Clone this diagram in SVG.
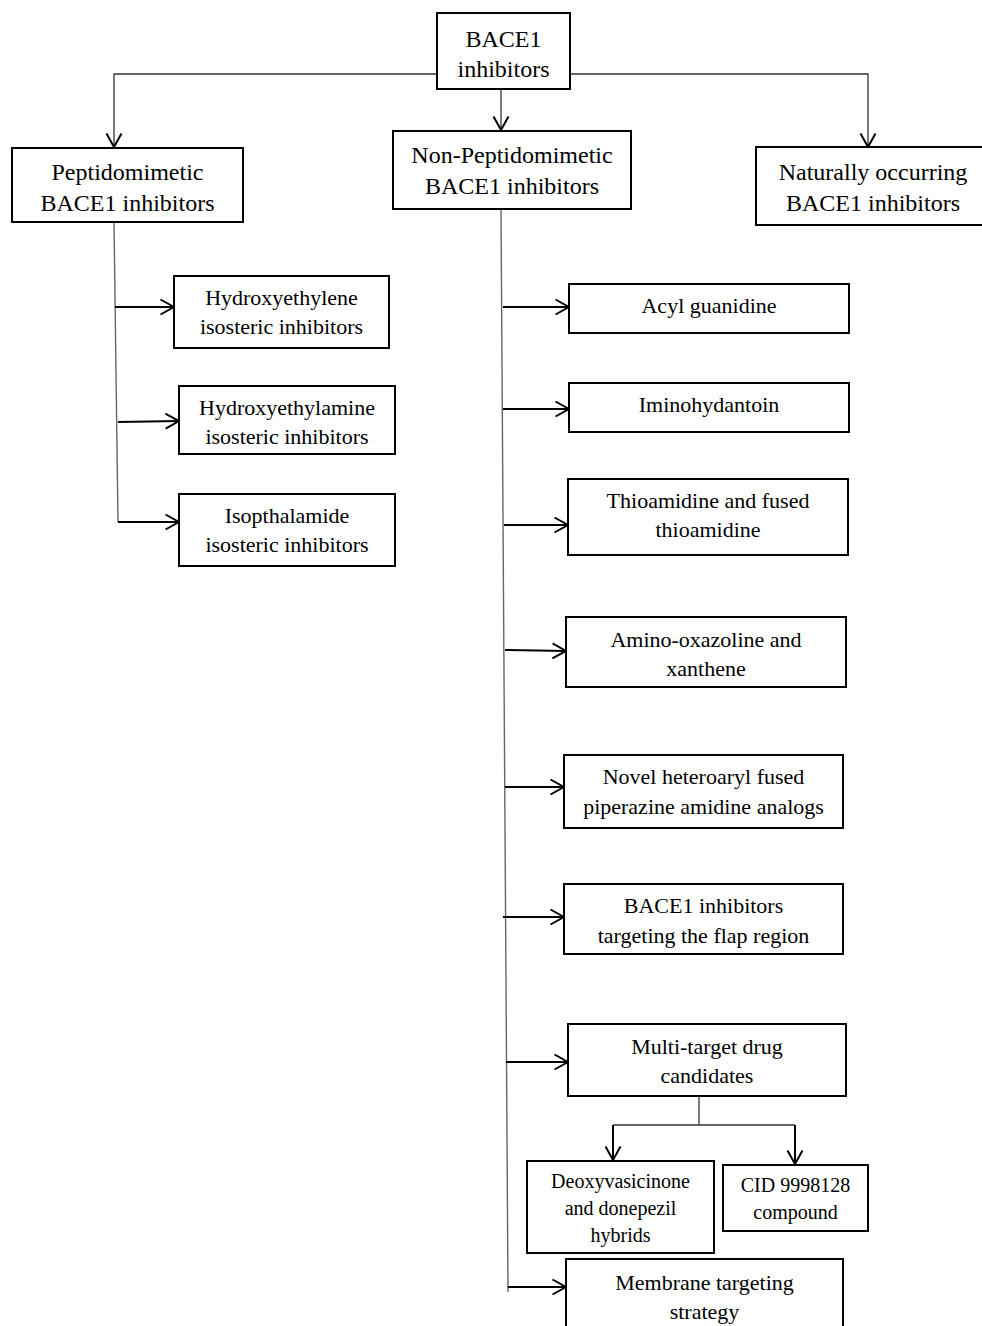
<svg xmlns="http://www.w3.org/2000/svg" width="982" height="1326" viewBox="0 0 982 1326">
<style>
.box{fill:#fff;stroke:#000;stroke-width:2}
.t{font-family:"Liberation Serif","Times New Roman",serif;fill:#000;text-anchor:middle}
.h{font-size:24px}
.m{font-size:22px}
.s{font-size:20px}
.thin{fill:none;stroke:#333;stroke-width:1.3}
.trunk{fill:none;stroke:#666;stroke-width:1.4}
.br{fill:none;stroke:#000;stroke-width:2}
</style>
<defs>
<marker id="arr" viewBox="0 0 16 18" refX="14.5" refY="9" markerWidth="16" markerHeight="18" markerUnits="userSpaceOnUse" orient="auto">
<path d="M1,1.5 L14.5,9 L1,16.5" fill="none" stroke="#000" stroke-width="2"/>
</marker>
</defs>
<rect width="982" height="1326" fill="#fff"/>
<g id="connectors">
<path class="thin" d="M437,74 H114 V147" marker-end="url(#arr)"/>
<path class="thin" d="M570,74 H868 V147" marker-end="url(#arr)"/>
<path class="thin" d="M501,89 V130" marker-end="url(#arr)"/>
<path class="trunk" d="M114,222 L118,522"/>
<path class="br" d="M115,307 H174" marker-end="url(#arr)"/>
<path class="br" d="M118,422 L179,421" marker-end="url(#arr)"/>
<path class="br" d="M118,522 H179" marker-end="url(#arr)"/>
<path class="trunk" d="M501,209 L508,1292"/>
<path class="br" d="M503,307 H569" marker-end="url(#arr)"/>
<path class="br" d="M503,409 H569" marker-end="url(#arr)"/>
<path class="br" d="M504,525 H568" marker-end="url(#arr)"/>
<path class="br" d="M505,650 L566,651" marker-end="url(#arr)"/>
<path class="br" d="M505,787 H564" marker-end="url(#arr)"/>
<path class="br" d="M503,917 H564" marker-end="url(#arr)"/>
<path class="br" d="M506,1062 H568" marker-end="url(#arr)"/>
<path class="br" d="M508,1287 H566" marker-end="url(#arr)"/>
<path class="thin" d="M699,1096 V1125"/>
<path class="thin" d="M613,1125 H795"/>
<path class="br" d="M613,1125 V1160" marker-end="url(#arr)"/>
<path class="br" d="M795,1125 V1164" marker-end="url(#arr)"/>
</g>
<g id="root">
<rect class="box" x="437" y="13" width="133" height="76"/>
<text class="t h" x="503.5" y="47">BACE1</text>
<text class="t h" x="503.5" y="77">inhibitors</text>
</g>
<g id="peptidomimetic">
<rect class="box" x="12" y="148" width="231" height="74"/>
<text class="t h" x="127.5" y="180">Peptidomimetic</text>
<text class="t h" x="127.5" y="211">BACE1 inhibitors</text>
</g>
<g id="nonpeptidomimetic">
<rect class="box" x="393" y="131" width="238" height="78"/>
<text class="t h" x="512" y="163">Non-Peptidomimetic</text>
<text class="t h" x="512" y="194">BACE1 inhibitors</text>
</g>
<g id="natural">
<rect class="box" x="756" y="147" width="236" height="78"/>
<text class="t h" x="873" y="180">Naturally occurring</text>
<text class="t h" x="873" y="211">BACE1 inhibitors</text>
</g>
<g id="hydroxyethylene">
<rect class="box" x="174" y="276" width="215" height="72"/>
<text class="t m" x="281.5" y="305">Hydroxyethylene</text>
<text class="t m" x="281.5" y="334">isosteric inhibitors</text>
</g>
<g id="hydroxyethylamine">
<rect class="box" x="179" y="386" width="216" height="68"/>
<text class="t m" x="287" y="415">Hydroxyethylamine</text>
<text class="t m" x="287" y="444">isosteric inhibitors</text>
</g>
<g id="isopthalamide">
<rect class="box" x="179" y="494" width="216" height="72"/>
<text class="t m" x="287" y="523">Isopthalamide</text>
<text class="t m" x="287" y="552">isosteric inhibitors</text>
</g>
<g id="acyl">
<rect class="box" x="569" y="284" width="280" height="49"/>
<text class="t m" x="709" y="313">Acyl guanidine</text>
</g>
<g id="imino">
<rect class="box" x="569" y="383" width="280" height="49"/>
<text class="t m" x="709" y="412">Iminohydantoin</text>
</g>
<g id="thioamidine">
<rect class="box" x="568" y="479" width="280" height="76"/>
<text class="t m" x="708" y="508">Thioamidine and fused</text>
<text class="t m" x="708" y="537">thioamidine</text>
</g>
<g id="amino">
<rect class="box" x="566" y="617" width="280" height="70"/>
<text class="t m" x="706" y="647">Amino-oxazoline and</text>
<text class="t m" x="706" y="676">xanthene</text>
</g>
<g id="novel">
<rect class="box" x="564" y="755" width="279" height="73"/>
<text class="t m" x="703.5" y="784">Novel heteroaryl fused</text>
<text class="t m" x="703.5" y="814">piperazine amidine analogs</text>
</g>
<g id="flap">
<rect class="box" x="564" y="884" width="279" height="70"/>
<text class="t m" x="703.5" y="913">BACE1 inhibitors</text>
<text class="t m" x="703.5" y="943">targeting the flap region</text>
</g>
<g id="multi">
<rect class="box" x="568" y="1024" width="278" height="72"/>
<text class="t m" x="707" y="1054">Multi-target drug</text>
<text class="t m" x="707" y="1083">candidates</text>
</g>
<g id="deoxy">
<rect class="box" x="527" y="1161" width="187" height="92"/>
<text class="t s" x="620.5" y="1188">Deoxyvasicinone</text>
<text class="t s" x="620.5" y="1215">and donepezil</text>
<text class="t s" x="620.5" y="1242">hybrids</text>
</g>
<g id="cid">
<rect class="box" x="723" y="1165" width="145" height="66"/>
<text class="t s" x="795.5" y="1192">CID 9998128</text>
<text class="t s" x="795.5" y="1219">compound</text>
</g>
<g id="membrane">
<rect class="box" x="566" y="1259" width="277" height="80"/>
<text class="t m" x="704.5" y="1290">Membrane targeting</text>
<text class="t m" x="704.5" y="1319">strategy</text>
</g>
</svg>
